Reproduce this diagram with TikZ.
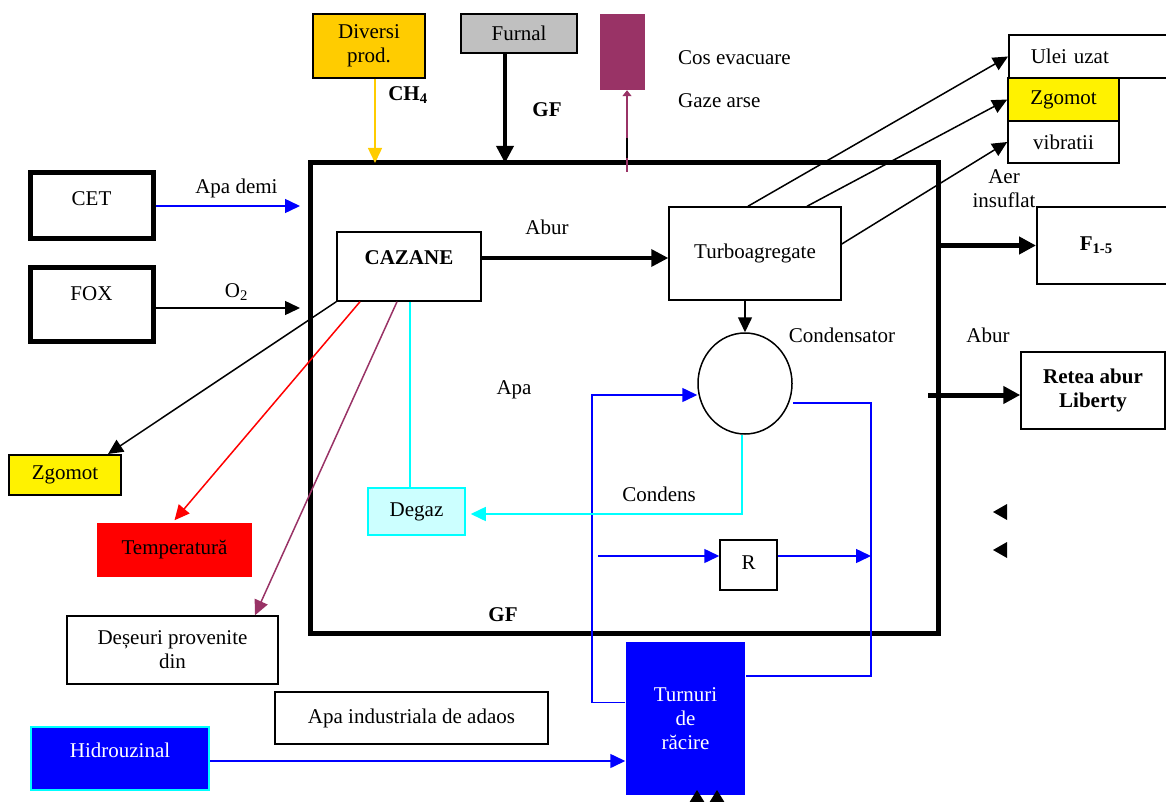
\documentclass[tikz,border=0pt]{standalone}
\usepackage{fontspec}
\setmainfont{Liberation Serif}
\usetikzlibrary{arrows.meta,shapes.geometric}

\definecolor{gold}{HTML}{FFCC00}
\definecolor{plum}{HTML}{993366}
\definecolor{aqua}{HTML}{00FFFF}
\definecolor{palecyan}{HTML}{CCFFFF}
\definecolor{silver}{HTML}{C0C0C0}

\tikzset{
	box/.style = {draw=black, line width=1.5pt, inner sep=0pt, align=center},
	heavy/.style = {box, line width=5pt},
	bold/.style = {font=\fontsize{21}{24}\selectfont\bfseries},
	lbl/.style = {inner sep=0pt, text=black},
	flow/.style = {-{Triangle[length=15pt,width=14pt]}, line width=1.5pt},
	bigflow/.style = {-{Triangle[length=17pt,width=17pt]}, line width=#1}
}

\begin{document}
\begin{tikzpicture}[x=1pt, y=-1pt, font=\fontsize{21}{24}\selectfont]
	\useasboundingbox (0,0) rectangle (1166,802);

	\node[heavy, minimum width=628pt, minimum height=470pt] (hala) at (624,398) {};

	\node[box, fill=gold, line width=2pt, minimum width=112pt, minimum height=64pt] (diversi) at (369,46) {Diversi\\prod.};
	\node[box, fill=silver, minimum width=116pt, minimum height=39pt] (furnal) at (519,33.5) {Furnal};
	\node[fill=plum, inner sep=0pt, minimum width=45pt, minimum height=76pt] (cos) at (622.5,52) {};
	\node[lbl, anchor=west] (coslbl) at (678,58) {Cos evacuare};
	\node[lbl, anchor=west] (gaze) at (678,101) {Gaze arse};
	\node[lbl, bold] (ch4) at (408,95) {CH\textsubscript{4}};
	\node[lbl, bold] (gfsus) at (547,110) {GF};

	\node[heavy, minimum width=123pt, text height=33pt, text depth=33pt] (cet) at (91.5,206) {CET};
	\node[heavy, minimum width=123pt, text height=33pt, text depth=41pt] (fox) at (91.5,304) {FOX};
	\node[box, bold, minimum width=144pt, text height=32pt, text depth=37pt] (cazane) at (409,266.5) {CAZANE};
	\node[box, minimum width=172pt, minimum height=93pt] (turbo) at (755,253.5) {Turboagregate};

	\node[box, anchor=west, minimum height=43pt, text width=128pt, inner xsep=22pt, align=left] (ulei) at (1008,56.5) {Ulei uzat};
	\node[box, fill=yellow, minimum width=111pt, minimum height=43pt] (zgomotdr) at (1063.5,99.5) {Zgomot};
	\node[box, minimum width=111pt, minimum height=42pt] (vibratii) at (1063.5,142) {vibratii};
	\node[lbl, align=center] (aer) at (1004,189) {Aer\\insuflat};
	\node[box, bold, anchor=west, minimum height=77pt, text width=64pt, inner xsep=43pt, align=left] (f15) at (1036,245.5) {F\textsubscript{1-5}};
	\node[lbl] (aburdr) at (988,335) {Abur};
	\node[box, bold, minimum width=144pt, minimum height=77pt] (retea) at (1093,390.5) {Retea abur\\Liberty};

	\node[box, ellipse, minimum width=94pt, minimum height=101pt] (cond) at (745,383.5) {};
	\node[lbl] (condlbl) at (842,335) {Condensator};
	\node[lbl] (apa) at (514,390) {Apa};
	\node[box, draw=aqua, fill=palecyan, minimum width=97pt, minimum height=47pt] (degaz) at (416.5,511.5) {Degaz};
	\node[lbl] (condens) at (659,494) {Condens};
	\node[box, minimum width=57pt, text height=29pt, text depth=21pt] (r) at (748.5,565) {R};
	\node[lbl, bold] (gfjos) at (503,615) {GF};

	\node[box, draw=none, fill=blue, text=white, minimum width=119pt, minimum height=153pt] (turnuri) at (685.5,718.5) {Turnuri\\de\\răcire};
	\node[box, draw=aqua, fill=blue, text=white, minimum width=178pt, text height=30pt, text depth=33pt] (hidro) at (120,758.5) {Hidrouzinal};
	\node[box, minimum width=273pt, minimum height=52pt] (apaind) at (411.5,718) {Apa industriala de adaos};

	\node[box, fill=yellow, line width=2pt, minimum width=112pt, minimum height=40pt] (zgomotst) at (65,475) {Zgomot};
	\node[box, draw=none, fill=red, minimum width=155pt, minimum height=54pt] (temp) at (174.5,550) {Temperatură};
	\node[box, minimum width=211pt, minimum height=68pt] (deseuri) at (172.5,650) {Deșeuri provenite\\din};

	\coordinate (ch4in) at (375,163);
	\coordinate (gfin) at (505,163);
	\coordinate (gazeout) at (627,172);
	\coordinate (demiin) at (300,206);
	\coordinate (o2in) at (300,308);
	\coordinate (aburout) at (928,395);
	\coordinate (racjos) at (592,702.5);
	\coordinate (racsus) at (592,395);
	\coordinate (racdr) at (871,403);
	\coordinate (racdrjos) at (871,676);
	\coordinate (rin) at (598,556);

	\draw[flow, gold] ([xshift=6pt]diversi.south) -- (ch4in);
	\draw[bigflow=3.5pt] ([xshift=-14pt]furnal.south) -- (gfin);
	\draw[plum, line width=1.5pt, -{Triangle[length=6pt,width=9pt]}] (gazeout) -- ([xshift=4.5pt]cos.south);
	\draw[line width=2.5pt] (627,138) -- (627,158);

	\draw[flow, blue] (cet.east) -- (demiin) node[lbl, pos=0.56, above=7pt] {Apa demi};
	\draw[flow] ([yshift=-4pt]fox.east) -- (o2in) node[lbl, pos=0.56, above=7pt] {O\textsubscript{2}};
	\draw[bigflow=3.5pt] ([yshift=8.5pt]cazane.east) -- ([yshift=-4.5pt]turbo.west) node[lbl, pos=0.35, above=22pt] {Abur};

	\draw[flow] ([xshift=-7pt]turbo.north) -- (ulei.west);
	\draw[flow] ([xshift=52pt]turbo.north) -- (zgomotdr.west);
	\draw[flow] ([yshift=9.5pt]turbo.east) -- (vibratii.west);
	\draw[bigflow=5pt] (hala.east |- f15.west) -- (f15.west);
	\draw[bigflow=5pt] (aburout) -- (aburout -| retea.west);

	\draw[flow] (cond.north |- turbo.south) -- (cond.north);
	\draw[flow, blue] ([yshift=16pt]turnuri.west) -- (racjos) -- (racsus) -- (racsus -| cond.west);
	\draw[blue, line width=1.5pt] (cond.east |- racdr) -- (racdr) -- (racdrjos) -- (racdrjos -| turnuri.east);
	\draw[flow, blue] (rin) -- ([yshift=9pt]r.west);
	\draw[flow, blue] ([yshift=9pt]r.east) -- (rin -| racdr);
	\draw[aqua, line width=1.5pt] ([xshift=1pt]cazane.south) -- ([xshift=-6.5pt]degaz.north);
	\draw[flow, aqua] ([xshift=-3pt]cond.south) |- ([xshift=5pt,yshift=-2.5pt]degaz.east);

	\draw[flow] (cazane.south west) -- ([xshift=43pt]zgomotst.north);
	\draw[flow, red] ([xshift=-49pt]cazane.south) -- ([yshift=2pt]temp.north);
	\draw[flow, plum] ([xshift=-12pt]cazane.south) -- ([xshift=82.5pt]deseuri.north);
	\draw[flow, blue] ([yshift=-2.5pt]hidro.east) -- ([yshift=-42.5pt]turnuri.west);

	\fill (1007,504) -- (993,512) -- (1007,520) -- cycle;
	\fill (1007,542) -- (993,550) -- (1007,558) -- cycle;
	\fill (697,790) -- (689,803) -- (705,803) -- cycle;
	\fill (717,790) -- (709,803) -- (725,803) -- cycle;
\end{tikzpicture}
\end{document}
